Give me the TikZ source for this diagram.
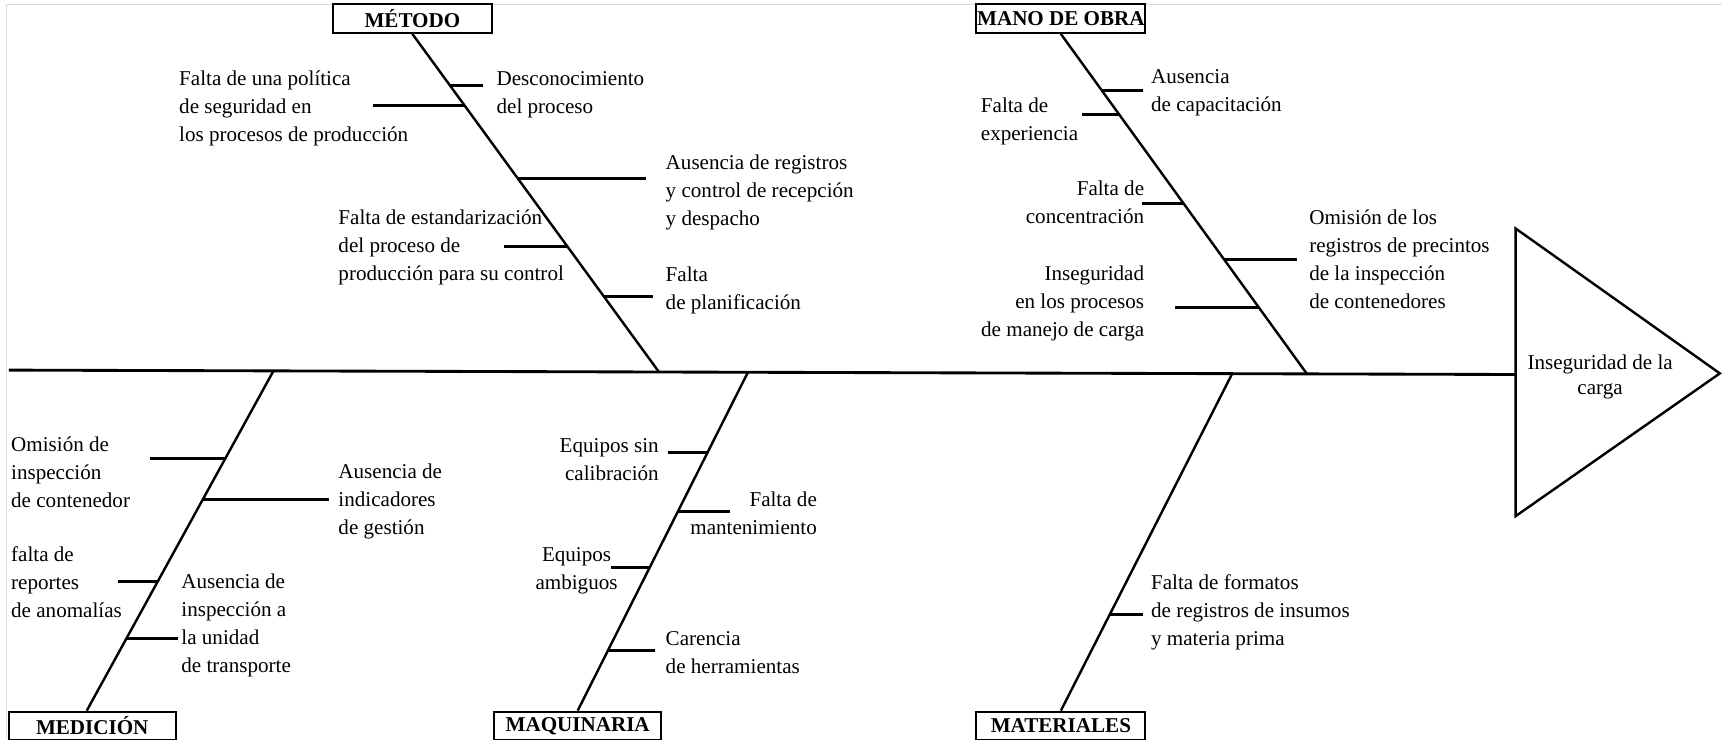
\documentclass[tikz,border=0pt]{standalone}
\usepackage{fontspec}
\setmainfont{Liberation Serif}
\usetikzlibrary{positioning}

\tikzset{
  spine/.style={line width=2.6pt},
  bone/.style={line width=2.2pt},
  tick/.style={line width=2.6pt},
  cat/.style={draw, line width=1.8pt, font=\fontsize{19.2}{25.5}\selectfont\bfseries, minimum width=#1, minimum height=26pt, inner sep=0pt},
  cause/.style={inner sep=0pt, align=left, anchor=base west},
  causeR/.style={inner sep=0pt, align=right, anchor=base east},
}

\begin{document}
\begin{tikzpicture}[x=1pt, y=-1pt, font=\fontsize{19.2}{25.5}\selectfont]
\useasboundingbox (0,0) rectangle (1568,673);
\draw[gray!30, line width=1pt] (6,673) -- (6,4) -- (1568,4);

% efecto
\coordinate (cola) at (8,337);
\coordinate (cabeza) at (1380,341);
\draw[line width=2.2pt] (1380,208) -- (1566,340) -- (1380,470) -- cycle;
\node[align=center, inner sep=0pt] (efecto) at (1457,343) {Inseguridad de la\\[-2.5pt]carga};
\draw[spine] (cola) -- (cabeza);

% categorias
\node[cat=145pt] (metodo)     at (375.5,17) {MÉTODO};
\node[cat=154pt] (manoobra)   at (966,17)   {MANO DE OBRA};
\node[cat=152pt] (medicion)   at (84,661)   {MEDICIÓN};
\node[cat=152pt] (maquinaria) at (526,661)  {MAQUINARIA};
\node[cat=154pt] (materiales) at (966,661)  {MATERIALES};

\coordinate (mEnd) at (600,338.7);
\coordinate (oEnd) at (1190,340.4);
\coordinate (eEnd) at (249,337.7);
\coordinate (qEnd) at (681,339);
\coordinate (aEnd) at (1122,340.2);

% espinas
\draw[bone] (metodo.south) -- (mEnd)
  coordinate[pos=.152] (m1) coordinate[pos=.211] (m2) coordinate[pos=.428] (m3)
  coordinate[pos=.628] (m4) coordinate[pos=.777] (m5);
\draw[bone] (manoobra.south) -- (oEnd)
  coordinate[pos=.1675] (o1) coordinate[pos=.238] (o2) coordinate[pos=.499] (o3)
  coordinate[pos=.664] (o4) coordinate[pos=.805] (o5);
\draw[bone] ([xshift=-5pt]medicion.north) -- (eEnd)
  coordinate[pos=.741] (e1) coordinate[pos=.622] (e2) coordinate[pos=.380] (e3)
  coordinate[pos=.213] (e4);
\draw[bone] (maquinaria.north) -- (qEnd)
  coordinate[pos=.764] (q1) coordinate[pos=.589] (q2) coordinate[pos=.424] (q3)
  coordinate[pos=.178] (q4);
\draw[bone] (materiales.north) -- (aEnd)
  coordinate[pos=.286] (a1);

% ramas
\draw[tick] (m1) -- ++(30,0);
\draw[tick] (m2) -- ++(-83,0);
\draw[tick] (m3) -- ++(117,0);
\draw[tick] (m4) -- ++(-58,0);
\draw[tick] (m5) -- ++(45,0);
\draw[tick] (o1) -- ++(37,0);
\draw[tick] (o2) -- ++(-34,0);
\draw[tick] (o3) -- ++(-38,0);
\draw[tick] (o4) -- ++(66,0);
\draw[tick] (o5) -- ++(-76,0);
\draw[tick] (e1) -- ++(-68,0);
\draw[tick] (e2) -- ++(115,0);
\draw[tick] (e3) -- ++(-36,0);
\draw[tick] (e4) -- ++(47,0);
\draw[tick] (q1) -- ++(-36,0);
\draw[tick] (q2) -- ++(47,0);
\draw[tick] (q3) -- ++(-35,0);
\draw[tick] (q4) -- ++(43,0);
\draw[tick] (a1) -- ++(30,0);

% causas (base = last line)
\node[cause] (m1t) at (452,103.5) {Desconocimiento\\del proceso};
\node[cause] (m2t) at (163,129) {Falta de una política\\de seguridad en\\los procesos de producción};
\node[cause] (m3t) at (606,205) {Ausencia de registros\\y control de recepción\\y despacho};
\node[cause] (m4t) at (308,255) {Falta de estandarización\\del proceso de\\producción para su control};
\node[cause] (m5t) at (606,281.5) {Falta\\de planificación};

\node[cause] (o1t) at (1048,101.5) {Ausencia\\de capacitación};
\node[cause] (o2t) at (893,127.5) {Falta de\\experiencia};
\node[causeR] (o3t) at (1042,203.5) {Falta de\\concentración};
\node[cause] (o4t) at (1192,280.5) {Omisión de los\\registros de precintos\\de la inspección\\de contenedores};
\node[causeR] (o5t) at (1042,306) {Inseguridad\\en los procesos\\de manejo de carga};

\node[cause] (e1t) at (10,462) {Omisión de\\inspección\\de contenedor};
\node[cause] (e2t) at (308,487) {Ausencia de\\indicadores\\de gestión};
\node[cause] (e3t) at (10,562) {falta de\\reportes\\de anomalías};
\node[cause] (e4t) at (165,612.5) {Ausencia de\\inspección a\\la unidad\\de transporte};

\node[causeR] (q1t) at (600,437.5) {Equipos sin\\calibración};
\node[causeR] (q2t) at (744,486.5) {Falta de\\mantenimiento};
\node[inner sep=0pt, align=center, anchor=base] (q3t) at (525,536.5) {Equipos\\ambiguos};
\node[cause] (q4t) at (606,613.5) {Carencia\\de herramientas};

\node[cause] (a1t) at (1048,588) {Falta de formatos\\de registros de insumos\\y materia prima};
\end{tikzpicture}
\end{document}
